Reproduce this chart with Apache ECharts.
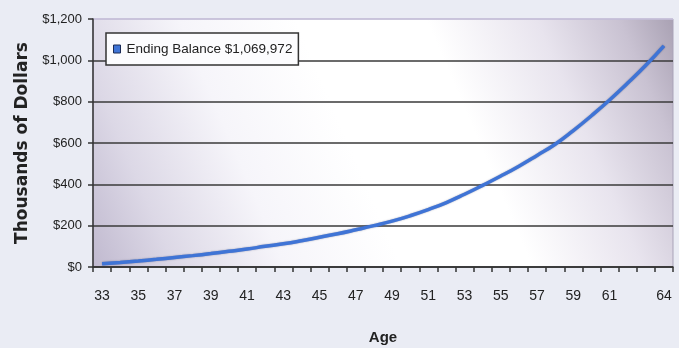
<!DOCTYPE html>
<html>
<head>
<meta charset="utf-8">
<script src="https://cdn.jsdelivr.net/npm/echarts@6/dist/echarts.min.js"></script>
<style>
html,body{margin:0;padding:0;background:#eaecf4;}
#c{width:679px;height:348px;}
</style>
</head>
<body>
<div id="c"></div>
<script>
// Data (thousands of dollars)
var ages = [33,34,35,36,37,38,39,40,41,42,43,44,45,46,47,48,49,50,51,52,53,54,55,56,57,58,59,60,61,62,63,64];
var balance = [16,22,29,37,46,55,65,76,87,100,112,127,144,161,180,200,222,248,278,312,352,395,440,488,540,594,660,732,808,890,976,1070];
var shownAgeLabels = [33,35,37,39,41,43,45,47,49,51,53,55,57,59,61,64];
var seriesName = 'Ending Balance $1,069,972';
var yTicks = [0,200,400,600,800,1000,1200];

var chart = echarts.init(document.getElementById('c'), null, {renderer:'canvas'});
var sans = '"Liberation Sans",Arial,sans-serif';

chart.setOption({
  backgroundColor: '#eaecf4',
  animation: false,
  grid: {
    left: 93, right: 6, top: 19, bottom: 81,
    outerBoundsMode: 'none',
    containLabel: false,
    show: true,
    borderColor: '#a9a3b8',
    borderWidth: 1,
    backgroundColor: {
      type: 'linear', x: 0, y: 1, x2: 1, y2: 0,
      colorStops: [
        {offset: 0, color: '#c0b9cf'},
        {offset: 0.12, color: '#dcd8e6'},
        {offset: 0.28, color: '#f6f5fa'},
        {offset: 0.45, color: '#ffffff'},
        {offset: 0.64, color: '#ffffff'},
        {offset: 0.8, color: '#e8e4ee'},
        {offset: 0.92, color: '#c9c2d2'},
        {offset: 1, color: '#a9a1b3'}
      ]
    }
  },
  legend: {
    left: 106, top: 33,
    orient: 'horizontal',
    data: [{name: seriesName, icon: 'rect'}],
    itemWidth: 7, itemHeight: 8, itemGap: 4,
    backgroundColor: '#fcfcfe',
    borderColor: '#333',
    borderWidth: 1.5,
    borderRadius: 0,
    padding: [9, 6, 9, 7],
    itemStyle: {color: '#3f74d6', borderColor: '#1a2a55', borderWidth: 1},
    textStyle: {fontFamily: sans, fontSize: 13.5, color: '#222', padding: [0,0,0,1]}
  },
  xAxis: {
    type: 'category',
    data: ages,
    boundaryGap: true,
    name: 'Age',
    nameLocation: 'middle',
    nameGap: 63,
    nameTextStyle: {fontFamily: sans, fontSize: 15, fontWeight: 'bold', color: '#222'},
    axisLine: {lineStyle: {color: '#333', width: 1.5}},
    axisTick: {show: true, interval: 0, length: 5, lineStyle: {color: '#333', width: 1.5}},
    axisLabel: {
      interval: function (idx, val) { return shownAgeLabels.indexOf(Number(val)) >= 0; },
      margin: 22,
      fontFamily: sans, fontSize: 14, color: '#222'
    },
    splitLine: {show: false}
  },
  yAxis: {
    type: 'value',
    min: yTicks[0], max: yTicks[yTicks.length-1], interval: 200,
    name: 'Thousands of Dollars',
    nameLocation: 'middle',
    nameGap: 62,
    nameRotate: 90,
    nameTextStyle: {fontFamily: '"DejaVu Sans",Verdana,sans-serif', fontSize: 17, fontWeight: 'bold', color: '#222'},
    axisLine: {show: true, lineStyle: {color: '#333', width: 1.5}},
    axisTick: {show: true, length: 5, lineStyle: {color: '#333', width: 1.5}},
    axisLabel: {
      margin: 11,
      fontFamily: sans, fontSize: 13, color: '#222',
      formatter: function (v) { return '$' + v.toLocaleString('en-US'); }
    },
    splitLine: {
      show: true,
      lineStyle: {color: ['#333','#3a3a3a','#3a3a3a','#3a3a3a','#3a3a3a','#3a3a3a','#c9c2dc'], width: 1.5}
    }
  },
  series: [{
    name: seriesName,
    type: 'line',
    data: balance,
    smooth: true,
    symbol: 'none',
    lineStyle: {color: '#3f74d6', width: 3.5, shadowColor: 'rgba(20,30,80,0.45)', shadowBlur: 1.5},
    itemStyle: {color: '#3f74d6'}
  }]
});
</script>
</body>
</html>
